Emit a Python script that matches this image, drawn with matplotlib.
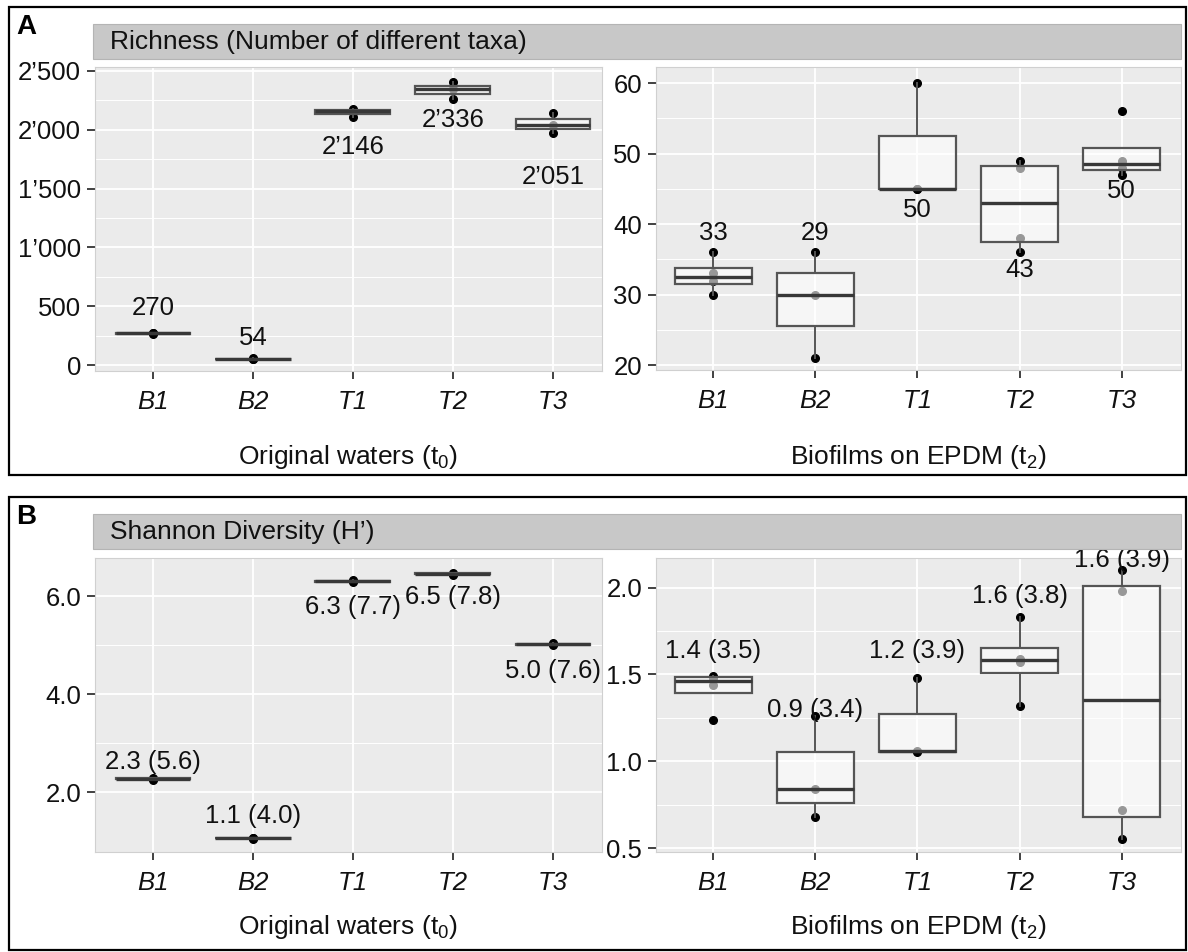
import numpy as np
import matplotlib.pyplot as plt
from matplotlib.patches import Rectangle

plt.rcParams['font.family'] = ['Liberation Sans', 'DejaVu Sans']
plt.rcParams['mathtext.fontset'] = 'custom'
plt.rcParams['mathtext.rm'] = 'Liberation Sans'
plt.rcParams['mathtext.it'] = 'Liberation Sans:italic'

sites = ['B1', 'B2', 'T1', 'T2', 'T3']

# A: richness
rich_water = [[262, 273, 276], [52, 54, 56], [2105, 2160, 2175],
              [2260, 2345, 2403], [1974, 2040, 2140]]
rich_water_labels = ['270', '54', '2\u2019146', '2\u2019336', '2\u2019051']
rich_water_label_y = [485, 230, 1854, 2083, 1599]
rich_water_ticks = [0, 500, 1000, 1500, 2000, 2500]
rich_water_ticklabels = ['0', '500', '1\u2019000', '1\u2019500', '2\u2019000', '2\u2019500']

rich_bio = [[30, 32, 33, 36], [21, 30, 36], [45, 45, 60],
            [36, 38, 48, 49], [47, 48, 49, 56]]
rich_bio_labels = ['33', '29', '50', '43', '50']
rich_bio_label_y = [38.8, 38.8, 42.0, 33.5, 44.7]
rich_bio_ticks = [20, 30, 40, 50, 60]
rich_bio_ticklabels = ['20', '30', '40', '50', '60']

# B: Shannon
shan_water = [[2.25, 2.27, 2.29], [1.05, 1.06, 1.07], [6.29, 6.31, 6.33],
              [6.44, 6.46, 6.48], [5.00, 5.02, 5.04]]
shan_water_labels = ['2.3 (5.6)', '1.1 (4.0)', '6.3 (7.7)', '6.5 (7.8)', '5.0 (7.6)']
shan_water_label_y = [2.62, 1.51, 5.78, 5.99, 4.48]
shan_water_ticks = [2, 4, 6]
shan_water_ticklabels = ['2.0', '4.0', '6.0']

shan_bio = [[1.24, 1.44, 1.48, 1.49], [0.68, 0.84, 1.26], [1.05, 1.06, 1.48],
            [1.32, 1.57, 1.59, 1.83], [0.55, 0.72, 1.98, 2.10]]
shan_bio_labels = ['1.4 (3.5)', '0.9 (3.4)', '1.2 (3.9)', '1.6 (3.8)', '1.6 (3.9)']
shan_bio_label_y = [1.634, 1.295, 1.634, 1.954, 2.157]
shan_bio_ticks = [0.5, 1.0, 1.5, 2.0]
shan_bio_ticklabels = ['0.5', '1.0', '1.5', '2.0']

W, H = 1188, 952
fig = plt.figure(figsize=(W / 100, H / 100), dpi=100)


def box(x0, y0, x1, y1):
    # pixel box -> figure fraction [left, bottom, width, height]
    return [x0 / W, 1 - y1 / H, (x1 - x0) / W, (y1 - y0) / H]


def draw(ax, data, xlim, ylim, ticks, ticklabels, labels, label_y):
    pos = np.arange(1, len(sites) + 1)
    ax.set_facecolor('#EBEBEB')
    for i, vals in enumerate(data):
        ax.plot([pos[i]] * len(vals), vals, 'o', color='black', ms=5.5, zorder=2)
    ax.boxplot(data, positions=pos, widths=0.75, patch_artist=True,
               showfliers=False, showcaps=False, whis=1.5, zorder=3,
               boxprops=dict(facecolor=(1, 1, 1, 0.6), edgecolor='#555555', linewidth=1.6),
               medianprops=dict(color='#383838', linewidth=2.4),
               whiskerprops=dict(color='#555555', linewidth=1.4))
    for i, t in enumerate(labels):
        ax.text(pos[i], label_y[i], t, ha='center', va='center', fontsize=18.5, color='#111111')
    ax.set_xlim(*xlim)
    ax.set_ylim(*ylim)
    ax.set_xticks(pos)
    ax.set_xticklabels(sites, fontstyle='italic')
    ax.set_yticks(ticks)
    ax.set_yticklabels(ticklabels)
    minor = [(a + b) / 2 for a, b in zip(ticks[:-1], ticks[1:])]
    ax.set_yticks(minor, minor=True)
    ax.set_axisbelow(True)
    ax.grid(which='major', color='white', linewidth=1.3)
    ax.grid(which='minor', axis='y', color='white', linewidth=0.7)
    ax.tick_params(which='major', length=6, width=1.3, color='#333333', labelsize=18.5,
                   labelcolor='#111111')
    ax.tick_params(axis='y', pad=4)
    ax.tick_params(axis='x', pad=8)
    ax.tick_params(which='minor', length=0)
    for s in ax.spines.values():
        s.set_color('#d0d0d0')
        s.set_linewidth(0.8)


ax1 = fig.add_axes(box(95, 67, 602, 371))
draw(ax1, rich_water, (0.42, 5.49), (-51, 2534), rich_water_ticks, rich_water_ticklabels,
     rich_water_labels, rich_water_label_y)
ax2 = fig.add_axes(box(656, 67, 1181, 370))
draw(ax2, rich_bio, (0.44, 5.58), (19.3, 62.3), rich_bio_ticks, rich_bio_ticklabels,
     rich_bio_labels, rich_bio_label_y)
ax3 = fig.add_axes(box(95, 558, 602, 852))
draw(ax3, shan_water, (0.42, 5.49), (0.776, 6.78), shan_water_ticks, shan_water_ticklabels,
     shan_water_labels, shan_water_label_y)
ax4 = fig.add_axes(box(656, 558, 1181, 852))
draw(ax4, shan_bio, (0.44, 5.58), (0.477, 2.17), shan_bio_ticks, shan_bio_ticklabels,
     shan_bio_labels, shan_bio_label_y)

# strips, axis titles, panel frames
for y0, y1, title in [(24, 59, 'Richness (Number of different taxa)'),
                      (514, 549, 'Shannon Diversity (H\u2019)')]:
    fig.add_artist(Rectangle((93 / W, 1 - y1 / H), (1181 - 93) / W, (y1 - y0) / H,
                             transform=fig.transFigure, facecolor='#C8C8C8',
                             edgecolor='#b4b4b4', linewidth=0.8))
    fig.text(110 / W, 1 - (y0 + y1) / 2 / H, title, ha='left', va='center',
             fontsize=19, color='#111111')

for yc in [457, 927]:
    fig.text(348 / W, 1 - yc / H, 'Original waters (t$_0$)', ha='center', va='center',
             fontsize=19, color='#111111')
    fig.text(918 / W, 1 - yc / H, 'Biofilms on EPDM (t$_2$)', ha='center', va='center',
             fontsize=19, color='#111111')

for y0, y1, lab in [(7, 475, 'A'), (497, 950, 'B')]:
    fig.add_artist(Rectangle((9 / W, 1 - y1 / H), (1186 - 9) / W, (y1 - y0) / H,
                             transform=fig.transFigure, facecolor='none',
                             edgecolor='black', linewidth=1.6))
    fig.text(16 / W, 1 - (y0 + 7) / H, lab, ha='left', va='top', fontsize=20,
             fontweight='bold')

fig.savefig('out.png', dpi=100)
